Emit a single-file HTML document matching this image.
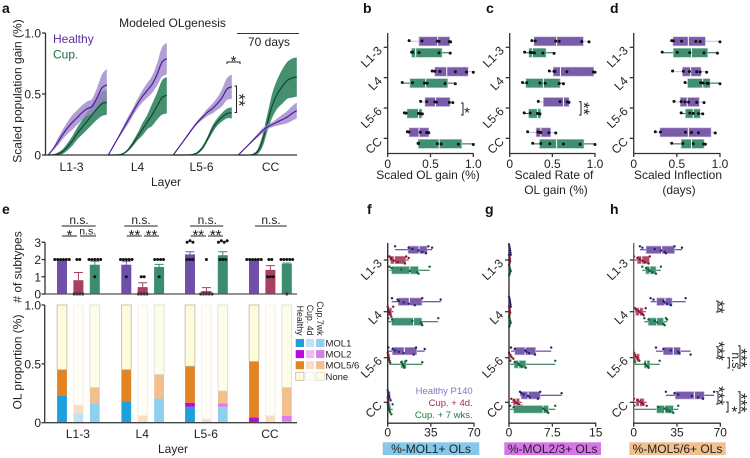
<!DOCTYPE html>
<html>
<head>
<meta charset="utf-8">
<title>Modeled OLgenesis figure</title>
<style>
html,body{margin:0;padding:0;background:#fff}
svg{display:block;font-family:"Liberation Sans",sans-serif}
text{fill:#222;font-size:12px}
.l{font-weight:bold;font-size:14px;fill:#111}
.m{text-anchor:middle}
.e{text-anchor:end}
</style>
</head>
<body>
<svg id="fig" xmlns="http://www.w3.org/2000/svg" width="750" height="458" viewBox="0 0 750 458">
<rect width="750" height="458" fill="#fff"/>
<text class="l" x="2" y="13">a</text>
<text class="l" x="363" y="13">b</text>
<text class="l" x="486" y="13">c</text>
<text class="l" x="610" y="13">d</text>
<text class="l" x="2" y="214">e</text>
<text class="l" x="367" y="214">f</text>
<text class="l" x="485" y="214">g</text>
<text class="l" x="610" y="214">h</text>

<text class="m" x="172.500" y="27">Modeled OLgenesis</text>
<text x="53" y="43" style="fill:#5b2d9c">Healthy</text>
<text x="53" y="58.500" style="fill:#1c6b3f">Cup.</text>
<text class="m" x="269" y="46">70 days</text>
<line x1="237" x2="299" y1="33.500" y2="33.500" stroke="#333" stroke-width="1"/>
<text class="m" transform="translate(21.500,91) rotate(-90)">Scaled population gain (%)</text>
<text class="m" x="166" y="186">Layer</text>

<text class="m" x="428" y="179">Scaled OL gain (%)</text>
<text class="m" x="554" y="179">Scaled Rate of</text>
<text class="m" x="556" y="194">OL gain (%)</text>
<text class="m" x="678" y="179">Scaled Inflection</text>
<text class="m" x="679" y="194">(days)</text>

<text class="m" transform="translate(21.500,267) rotate(-90)"># of subtypes</text>
<text class="m" transform="translate(21.500,362) rotate(-90)">OL proportion (%)</text>
<text class="m" x="173" y="453">Layer</text>

<rect x="382.700" y="442.300" width="96.600" height="12.700" fill="#85c8ea"/>
<rect x="504.300" y="442.300" width="96.700" height="12.700" fill="#d674e8"/>
<rect x="629.300" y="442.300" width="96.400" height="12.700" fill="#f2c08e"/>
<text class="m" x="431" y="453">%-MOL1+ OLs</text>
<text class="m" x="552.700" y="453">%-MOL2/3+ OLs</text>
<text class="m" x="677.500" y="453">%-MOL5/6+ OLs</text>

<text class="e" x="472.700" y="394" style="font-size:9.500px;fill:#8a70c0">Healthy P140</text>
<text class="e" x="472.700" y="406" style="font-size:9.500px;fill:#a03050">Cup. + 4d.</text>
<text class="e" x="472.700" y="418" style="font-size:9.500px;fill:#1a7a3a">Cup. + 7 wks.</text>
</svg>

<script>
/* ---------- panel a: modeled OLgenesis curves ---------- */
const aLayers = ['L1-3', 'L4', 'L5-6', 'CC'];
const aYTicks = [0, 0.5, 1];
const aYTickLabels = ['0', '0.5', '1.0'];
const aDays = [0, 5.83, 11.67, 17.5, 23.33, 29.17, 35, 40.83, 46.67, 52.5, 58.33, 64.17, 70];
const aHealthyMean = [
  [0, .05, .11, .17, .225, .27, .31, .35, .38, .40, .47, .55, .575],
  [0, .07, .14, .21, .28, .35, .42, .48, .53, .58, .66, .76, .79],
  [0, .055, .11, .165, .22, .27, .31, .35, .38, .42, .47, .54, .56],
  [0, .04, .08, .12, .16, .20, .23, .25, .27, .29, .31, .34, .365]
];
const aHealthyBand = [
  [0, .01, .03, .04, .05, .06, .06, .06, .06, .06, .08, .11, .13],
  [0, .005, .01, .02, .03, .03, .04, .05, .06, .07, .09, .12, .13],
  [0, .003, .005, .01, .01, .015, .02, .03, .04, .05, .07, .09, .10],
  [0, .002, .005, .01, .015, .02, .02, .02, .03, .04, .05, .06, .065]
];
const aCupMean = [
  [0, .002, .01, .03, .07, .12, .18, .23, .28, .33, .38, .42, .43],
  [0, 0, .002, .01, .04, .09, .15, .21, .27, .33, .40, .47, .49],
  [0, 0, 0, .001, .004, .02, .06, .13, .21, .27, .31, .34, .345],
  [0, 0, 0, .005, .03, .12, .27, .41, .50, .56, .61, .63, .64]
];
const aCupBand = [
  [0, .002, .01, .02, .03, .04, .05, .06, .07, .08, .09, .10, .10],
  [0, 0, .002, .005, .01, .02, .03, .05, .06, .09, .11, .14, .15],
  [0, 0, 0, .001, .003, .01, .015, .02, .03, .03, .035, .04, .045],
  [0, 0, 0, .005, .02, .05, .07, .10, .12, .14, .15, .16, .16]
];

/* ---------- panels b, c, d: box plots (healthy, cup alternating per layer) ---------- */
const bcdLayers = ['L1-3', 'L4', 'L5-6', 'CC'];
const bcdXTicks = [0, 0.5, 1];
const bcdXTickLabels = ['0', '0.5', '1.0'];

const bLow = [.25, .27, .52, .17, .385, .195, .23, .35];
const bQ1 = [.366, .28, .55, .26, .436, .226, .25, .358];
const bMedian = [.584, .327, .69, .444, .56, .36, .366, .60];
const bQ3 = [.724, .634, .94, .70, .727, .40, .48, .864];
const bHigh = [.735, .73, 1, .79, .76, .41, .486, 1];
const bPoints = [
  [.25, .40, .58, .60, .72, .735], [.28, .29, .366, .60, .73],
  [.52, .55, .61, .79, .92, 1], [.17, .29, .43, .46, .67, .79],
  [.385, .455, .55, .57, .72, .76], [.195, .215, .36, .38, .405],
  [.23, .25, .38, .455, .48], [.355, .36, .58, .625, .825, 1]
];

const cLow = [.26, .175, .465, .15, .335, .17, .21, .27];
const cQ1 = [.285, .226, .51, .19, .395, .222, .31, .35];
const cMedian = [.55, .265, .595, .395, .63, .325, .365, .55];
const cQ3 = [.863, .425, .985, .59, .695, .363, .48, .87];
const cHigh = [.93, .52, 1, .63, .70, .363, .54, 1];
const cPoints = [
  [.26, .30, .54, .58, .845, .93], [.175, .24, .26, .29, .39, .52],
  [.465, .52, .53, .67, .98, 1], [.15, .20, .355, .415, .58, .63],
  [.335, .59, .675, .69, .695], [.17, .24, .325, .335, .355],
  [.21, .33, .355, .365, .46, .54], [.27, .365, .47, .63, .825, 1]
];

const dLow = [.44, .33, .45, .595, .467, .55, .25, .44];
const dQ1 = [.455, .46, .565, .625, .54, .60, .305, .55];
const dMedian = [.633, .67, .66, .80, .62, .69, .633, .67];
const dQ3 = [.83, .857, .78, .885, .76, .77, .896, .815];
const dHigh = [1, .97, .845, 1, .815, .80, .945, .845];
const dPoints = [
  [.44, .46, .555, .72, .77, 1], [.33, .505, .65, .815, .97],
  [.45, .575, .645, .73, .77, .845], [.595, .775, .805, .85, .865, 1],
  [.467, .55, .595, .635, .73, .815], [.55, .65, .69, .75, .80],
  [.25, .31, .60, .67, .75, .945], [.44, .57, .69, .81, .83]
];

/* ---------- panel e: subtype counts and stacked proportions ---------- */
const eLayers = ['L1-3', 'L4', 'L5-6', 'CC'];
const eGroups = ['Healthy', 'Cup. 4d', 'Cup. 7wk'];
const eCountTicks = [0, 1, 2, 3];
const eCountMean = [2, .8, 1.7, 1.7, .4, 1.57, 2.3, .17, 2.25, 2, 1.4, 1.75];
const eCountError = [0, .45, .2, .2, .25, .15, .15, .2, .2, 0, .25, .05];
const eCountDots = [
  [2, 2, 2, 2, 2, 2], [2, 2, 0, 0, 0, 0], [2, 2, 2, 2, 2, 1],
  [2, 2, 2, 2, 2, 1], [1, 1, 0, 0, 0, 0], [2, 2, 2, 2, 1],
  [3, 3, 3, 2, 2, 2], [2, 0, 0, 0, 0, 0], [3, 3, 3, 3, 2, 2, 2],
  [2, 2, 2, 2, 2, 2], [2, 2, 1, 1, 1], [2, 2, 2, 2, 2, 0]
];
const eProportionTicks = [0, 0.5, 1];
const eProportionTickLabels = ['0', '0.5', '1.0'];
const eMol1 = [.23, .08, .165, .18, 0, .205, .135, 0, .135, .005, .005, .01];
const eMol2 = [0, 0, 0, 0, 0, 0, .035, 0, .03, .04, 0, .05];
const eMol56 = [.22, .07, .135, .27, .06, .205, .31, .03, .105, .475, .055, .24];
const eSubtypes = ['MOL1', 'MOL2', 'MOL5/6', 'None'];

/* ---------- panels f, g, h: box plots (healthy, cup 4d, cup 7wk per layer) ---------- */
const fghLayers = ['L1-3', 'L4', 'L5-6', 'CC'];

const fXTicks = [0, 35, 70];
const fLow = [6, 1.4, 1.4, 3.2, 0, .5, 0, 0, 1.4, 0, 0, 0];
const fQ1 = [16.5, 2.4, 3.2, 8.6, 0, 3.2, 3.8, 0, 10.8, 0, 0, 0];
const fMedian = [25.4, 5.4, 18, 17.5, 1.4, 21, 13.5, .5, 12.7, .6, .3, 1];
const fQ3 = [32, 14.6, 24.9, 27.8, 3.2, 27.6, 23.5, 1.5, 14.9, 2, 1, 2.4];
const fHigh = [36, 17, 34, 43, 4.6, 41, 30, 2, 28, 2.4, 1, 4];
const fPoints = [
  [6, 17, 20, 25, 28, 31, 33, 36], [1.4, 2.5, 3, 5, 8, 14, 15, 17], [1.4, 3.2, 11, 18, 24, 25, 34],
  [3.5, 8, 9, 13, 17, 22, 28, 43], [0, .5, 1, 1.5, 2, 3, 4.5], [.5, 3.5, 20, 27, 27.5, 28, 41],
  [.5, 4, 6, 9, 13, 21, 23, 30], [0, .3, .5, 1, 1.5, 2], [1.4, 11, 12, 12.5, 13, 13.5, 15, 28],
  [0, .3, .6, 1, 1.5, 2.4], [0, .2, .4, .6, 1], [0, .5, 1, 1.5, 2, 3, 4]
];

const gXTicks = [0, 7.5, 15];
const gXTickLabels = ['0', '7.5', '15'];
const gLow = [0, 0, 0, 0, 0, 0, .35, 0, .2, 1.9, .4, .2];
const gQ1 = [0, 0, 0, 0, 0, 0, 1, 0, .9, 2.1, .75, .8];
const gMedian = [.1, .1, .1, .1, .1, .1, 2.8, .2, 1.7, 3.3, 1.2, 5.9];
const gQ3 = [.2, .2, .2, .2, .2, .2, 4.6, .4, 2.9, 5.4, 1.8, 6.8];
const gHigh = [.3, .2, .3, .3, .2, .3, 7.3, .75, 8, 9.1, 2.2, 8];
const gPoints = [
  [0, .1, .15, .2, .25, .3], [0, .1, .15, .2, .1, .05], [0, .1, .2, .3, .15, .05],
  [0, .1, .15, .2, .25, .3], [0, .1, .15, .2, .1, .05], [0, .1, .2, .3, .15, .05],
  [.35, 1, 2.8, 3, 3.5, 4.5, 7.3], [0, .2, .4, .75], [.2, 1, 1.6, 1.8, 2.2, 2.9, 8],
  [1.9, 2.1, 2.5, 3.3, 3.6, 5, 5.4, 9.1], [.4, .8, 1, 1.3, 1.8, 2.2], [.2, .8, 5.9, 6.2, 6.6, 6.8, 8]
];

const hXTicks = [0, 35, 70];
const hLow = [5, .3, 7, 13.7, 1, 8.6, 18, .3, .5, 26, .3, .5];
const hQ1 = [10, 3, 9.7, 18.6, 1.6, 11.8, 24, .3, 8.6, 33.6, 2, 18.6];
const hMedian = [22.6, 6.5, 13, 25.3, 4.6, 18.6, 32, 2, 10.5, 49, 4.6, 25];
const hQ3 = [33, 12.6, 18, 31, 7.5, 24, 37.7, 4.6, 13, 57, 8.3, 32];
const hHigh = [39, 13, 22, 42, 9.7, 27, 46, 4.8, 21, 65, 10.5, 36];
const hPoints = [
  [5, 7, 17, 22, 25, 26, 33, 39], [.3, 3, 5, 7, 9, 12, 13], [7, 10, 12, 13, 15, 18, 22],
  [13.7, 16, 24, 25, 27, 30, 42], [1, 2, 4, 5, 7, 8, 9.7], [8.6, 12, 17, 19, 24, 25, 26, 27],
  [18, 24, 30, 36, 37, 46], [.3, 1, 2, 3, 4.6], [.5, 1, 9, 10, 11, 12, 21],
  [26, 33, 36, 47, 52, 56, 65], [.3, 3, 5, 7, 8, 10.5], [.5, 20, 25, 27, 29, 32, 36]
];

/* ---------- drawing ---------- */
const NS = 'http://www.w3.org/2000/svg';
const svg = document.getElementById('fig');
function el(tag, attrs, text) {
  const node = document.createElementNS(NS, tag);
  for (const k in attrs) node.setAttribute(k, attrs[k]);
  if (text !== undefined) node.textContent = text;
  svg.appendChild(node);
  return node;
}
function linear(d0, d1, r0, r1) { return v => r0 + (v - d0) / (d1 - d0) * (r1 - r0); }
const axisColor = '#333';

/* smooth curve through points (Catmull-Rom as cubic beziers) */
function smoothSegments(pts) {
  let d = '';
  for (let i = 0; i < pts.length - 1; i++) {
    const p0 = pts[Math.max(0, i - 1)], p1 = pts[i], p2 = pts[i + 1], p3 = pts[Math.min(pts.length - 1, i + 2)];
    const c1x = p1[0] + (p2[0] - p0[0]) / 6, c1y = p1[1] + (p2[1] - p0[1]) / 6;
    const c2x = p2[0] - (p3[0] - p1[0]) / 6, c2y = p2[1] - (p3[1] - p1[1]) / 6;
    d += ` C${c1x.toFixed(2)} ${c1y.toFixed(2)} ${c2x.toFixed(2)} ${c2y.toFixed(2)} ${p2[0].toFixed(2)} ${p2[1].toFixed(2)}`;
  }
  return d;
}

/* panel a */
const aY = linear(0, 1, 155, 33);
const aPanelLeft = i => [48.300, 108.300, 173.300, 238.300][i];
const aPanelWidth = 58.500;
const aX = (i, day) => aPanelLeft(i) + day / 70 * aPanelWidth;
const aLabelShift = i => [-6, 0, -1, 3][i];
function drawCurve(i, means, bands, fill, stroke, alpha, name) {
  const m = means[i], b = bands[i];
  const topPts = m.map((v, k) => [aX(i, aDays[k]), aY(v + b[k])]);
  const botPts = m.map((v, k) => [aX(i, aDays[k]), aY(Math.max(0, v - b[k]))]).reverse();
  const d = `M${topPts[0][0]} ${topPts[0][1]}` + smoothSegments(topPts) + ` L${botPts[0][0]} ${botPts[0][1]}` + smoothSegments(botPts) + ' Z';
  const band = el('path', { d: d, fill: fill, 'fill-opacity': alpha });
  
  
  const linePts = m.map((v, k) => [aX(i, aDays[k]), aY(v)]);
  const line = el('path', {
    d: `M${linePts[0][0]} ${linePts[0][1]}` + smoothSegments(linePts),
    fill: 'none', stroke: stroke, 'stroke-width': 1.2
  });
  
  
}
aLayers.forEach((layer, i) => {
  drawCurve(i, aCupMean, aCupBand, '#3b8a68', '#0e4a2c', .95, 'cup');
  drawCurve(i, aHealthyMean, aHealthyBand, '#9d86c9', '#4d1c9a', .8, 'healthy');
  const t = el('text', { class: 'm', x: aX(i, 35) + aLabelShift(i), y: 171 }, layer);
  
  
});
function hline(x1, x2, y, name, w, c) {
  const n = el('line', { x1: x1, x2: x2, y1: y, y2: y, stroke: c || axisColor, 'stroke-width': w || 1.3 });
  
  
  return n;
}
function vline(x, y1, y2, name, w, c) {
  const n = el('line', { x1: x, x2: x, y1: y1, y2: y2, stroke: c || axisColor, 'stroke-width': w || 1.3 });
  
  
  return n;
}
vline(45.500, 33, 155.500, 'chart-a-y-axis');
hline(45, 297, 155, 'chart-a-x-axis');
aYTicks.forEach((v, i) => {
  hline(42, 45.500, aY(v), 'chart-a-y-tick');
  const t = el('text', { class: 'e', x: 41, y: aY(v) + 4.500 }, aYTickLabels[i]);
  
  
});

/* significance helpers */
function bracket(x, y1, y2, name) {
  const n = el('path', { d: `M${x - 2} ${y1} H${x} V${y2} H${x - 2}`, fill: 'none', stroke: '#222', 'stroke-width': 1 });
  
  
}
function vsig(x, y, s, name, size) {
  const n = el('text', { class: 'm', transform: `translate(${x},${y}) rotate(90)`, style: `font-size:${size || 16.5}px` }, s);
  
  
}
function hsig(x, y, s, name, size) {
  const n = el('text', { class: 'm', x: x, y: y, style: `font-size:${size || 15}px` }, s);
  
  
}
hsig(233.500, 66, '*', 'sig-star-70-days');
const sigBar = el('path', { d: 'M227 64 V62 H240 V64', fill: 'none', stroke: '#222', 'stroke-width': 1 });


const sigBr = el('path', { d: 'M234.500 86 H236.500 V112.500 H234.500', fill: 'none', stroke: '#222', 'stroke-width': 1 });


vsig(233.500, 100, '**', 'sig-stars-l56');

/* box plots */
const palette = {
  h: { box: '#7b5cab', whisk: '#3f2a86', light: '#c7bbe0', dot: '#2a1a70' },
  c: { box: '#a84d68', whisk: '#9a1233', light: '#d9a5b4', dot: '#8e0f2e' },
  s: { box: '#3f8f70', whisk: '#13693a', light: '#a6d1be', dot: '#0e5f2f' }
};
function boxRow(scale, y, h, low, q1, med, q3, high, pts, col, dotColor, whisk, r, jit, name) {
  hline(scale(low), scale(high), y, name + '-whisker', 1, whisk);
  const box = el('rect', { x: scale(q1), y: y - h / 2, width: Math.max(0, scale(q3) - scale(q1)), height: h, fill: col.box, stroke: col.light, 'stroke-width': .6 });
  
  
  vline(scale(med), y - h / 2, y + h / 2, name + '-median', 1, '#fff');
  pts.forEach((p, k) => {
    const c = el('circle', { cx: scale(p), cy: y + jit * ((k % 6) - 2.500), r: r, fill: dotColor });
    
    
  });
}

const bcdCenter = i => 47.300 + i * 30.350;
function boxPanel(x0, x1, key, low, q1, med, q3, high, pts) {
  const sx = linear(0, 1, x0, x1);
  low.forEach((_, k) => {
    const cat = Math.floor(k / 2), healthy = k % 2 === 0;
    const col = healthy ? palette.h : palette.s;
    const y = bcdCenter(cat) + (healthy ? -6 : 5.500);
    boxRow(sx, y, 9, low[k], q1[k], med[k], q3[k], high[k], pts[k], col, '#111', healthy ? col.light : col.whisk, 1.500, .25,
      'chart-' + key + '-' + bcdLayers[cat] + (healthy ? '-healthy' : '-cup'));
  });
  vline(x0, 33, 154, 'chart-' + key + '-y-axis');
  hline(x0 - .6, x1 + .5, 153.500, 'chart-' + key + '-x-axis');
  bcdLayers.forEach((layer, i) => {
    hline(x0 - 4, x0, bcdCenter(i), 'chart-' + key + '-y-tick');
    const t = el('text', { class: 'e', transform: `translate(${x0 - 5},${bcdCenter(i) + 4}) rotate(-45)` }, layer);
    
    
  });
  bcdXTicks.forEach((v, i) => {
    vline(sx(v), 153.500, 157, 'chart-' + key + '-x-tick');
    const t = el('text', { class: 'm', x: sx(v), y: 168 }, bcdXTickLabels[i]);
    
    
  });
}
boxPanel(387.700, 473.300, 'b', bLow, bQ1, bMedian, bQ3, bHigh, bPoints);
boxPanel(509.700, 595, 'c', cLow, cQ1, cMedian, cQ3, cHigh, cPoints);
boxPanel(633.700, 720, 'd', dLow, dQ1, dMedian, dQ3, dHigh, dPoints);
bracket(463, 103, 115, 'sig-bracket-b');
hsig(467, 117.500, '*', 'sig-star-b');
bracket(581, 101.700, 115, 'sig-bracket-c');
vsig(578, 108.500, '**', 'sig-stars-c');

/* panel e: counts */
const eBarCenter = k => {
  const cat = Math.floor(k / 3), g = k % 3;
  return [62, 126.300, 190, 254][cat] + g * 16.400;
};
const eCountY = linear(0, 3, 294, 242.300);
const eBarColors = ['#6f50a8', '#a8405f', '#3c8c6e'];
eCountMean.forEach((v, k) => {
  const g = k % 3, cx = eBarCenter(k);
  const bar = el('rect', { x: cx - 5, y: eCountY(v), width: 10, height: 294 - eCountY(v), fill: eBarColors[g] });
  
  
  const top = eCountY(v + eCountError[k]);
  const err = el('path', { d: `M${cx - 4.500} ${top} H${cx + 4.500} M${cx} ${top} V${eCountY(v)}`, stroke: eBarColors[g], 'stroke-width': 1, fill: 'none' });
  
  
  const seen = {};
  eCountDots[k].forEach(d => { seen[d] = (seen[d] || 0) + 1; });
  Object.keys(seen).forEach(val => {
    for (let j = 0; j < seen[val]; j++) {
      const dot = el('circle', { cx: cx + (j - (seen[val] - 1) / 2) * 2.900, cy: eCountY(+val) - (+val === 3 && j % 2 ? 1.500 : 0), r: 1.500, fill: '#111' });
      
      
    }
  });
});
vline(45, 242.300, 294.500, 'chart-e-top-y-axis');
hline(44.500, 297, 294, 'chart-e-top-x-axis', 1.300, '#555');
eCountTicks.forEach(v => {
  hline(41.500, 45, eCountY(v), 'chart-e-top-y-tick');
  const t = el('text', { class: 'e', x: 41, y: eCountY(v) + 4.500 }, String(v));
  
  
});

/* panel e: stacked proportions */
const ePropY = linear(0, 1, 422.700, 305);
const stackColors = [
  ['#1f9fdc', '#bfe3f5', '#8fd0f0'],
  ['#b90be0', '#ecbcf2', '#d97cec'],
  ['#e28423', '#f8dcc4', '#f2c08e'],
  ['#fdfbdc', '#fefef6', '#fefdea']
];
const noneStroke = ['#bdb9a0', '#eeeeea', '#ddddcf'];
eMol1.forEach((_, k) => {
  const g = k % 3, cx = eBarCenter(k);
  const values = [eMol1[k], eMol2[k], eMol56[k], 1 - eMol1[k] - eMol2[k] - eMol56[k]];
  let acc = 0;
  values.forEach((v, s) => {
    const r = el('rect', { x: cx - 4.900, y: ePropY(acc + v), width: 9.800, height: ePropY(acc) - ePropY(acc + v), fill: stackColors[s][g] });
    if (s === 3) { r.setAttribute('stroke', noneStroke[g]); r.setAttribute('stroke-width', '.8'); }
    
    
    acc += v;
  });
});
vline(44.700, 305, 423, 'chart-e-bottom-y-axis');
hline(44.500, 297, 422.700, 'chart-e-bottom-x-axis', 1.300, '#444');
eProportionTicks.forEach((v, i) => {
  hline(41.500, 44.700, ePropY(v), 'chart-e-bottom-y-tick');
  const t = el('text', { class: 'e', x: 41, y: ePropY(v) + 4.500 }, eProportionTickLabels[i]);
  
  
});
eLayers.forEach((layer, i) => {
  const t = el('text', { class: 'm', x: eBarCenter(i * 3 + 1) - .5, y: 438 }, layer);
  
  
});

/* panel e: legend */
const eLegendRow = s => 343 + s * 11.100;
const eLegendCol = g => 295.700 + g * 10.200;
eSubtypes.forEach((name, s) => {
  eGroups.forEach((grp, g) => {
    const r = el('rect', { x: eLegendCol(g), y: eLegendRow(s) - 4, width: 8.300, height: 8, fill: stackColors[s][g] });
    if (s === 3) { r.setAttribute('stroke', noneStroke[g]); r.setAttribute('stroke-width', '.8'); }
    
    
  });
  const t = el('text', { x: 325.500, y: eLegendRow(s) + 3.500, style: 'font-size:9.500px' }, name);
  
  
});
['Healthy', 'Cup. 4d', 'Cup.7wk'].forEach((label, g) => {
  const t = el('text', { class: 'e', transform: `translate(${296.800 + g * 10.200},335.500) rotate(90)`, style: 'font-size:8.800px' }, label);
  
  
});

/* panel e: significance */
function sigGroup(x1, x2, y, labelX, labelY, label, name, size) {
  hline(x1, x2, y, name + '-bar', 1, '#222');
  hsig(labelX, labelY, label, name + '-label', size);
}
sigGroup(61.700, 95.700, 226, 79, 224, 'n.s.', 'sig-e-l13', 12);
sigGroup(62, 77, 236, 69.500, 240, '*', 'sig-e-l13-a', 15);
sigGroup(80, 96, 236, 87.700, 234.500, 'n.s.', 'sig-e-l13-b', 10.500);
sigGroup(124.300, 157.700, 226, 141, 224, 'n.s.', 'sig-e-l4', 12);
sigGroup(126.700, 141.700, 236, 134.500, 240, '**', 'sig-e-l4-a', 15);
sigGroup(144, 159, 236, 151.500, 240, '**', 'sig-e-l4-b', 15);
sigGroup(190, 223.300, 226, 207.300, 224, 'n.s.', 'sig-e-l56', 12);
sigGroup(190.700, 206, 236, 198.300, 240, '**', 'sig-e-l56-a', 15);
sigGroup(208, 223, 236, 215.700, 240, '**', 'sig-e-l56-b', 15);
sigGroup(255, 286.700, 226, 271, 224, 'n.s.', 'sig-e-cc', 12);

/* panels f, g, h */
const fghCenter = i => [260, 311.700, 357.700, 402.300][i];
const fghOffset = (cat, g) => {
  const spread = [10.200, 10, 6.600, 7][cat];
  return (g - 1) * spread;
};
function fghPanel(x0, x1, max, key, ticks, labels, low, q1, med, q3, high, pts, axis) {
  const sx = linear(0, max, x0, x1);
  const cols = [palette.h, palette.c, palette.s];
  const groups = ['-healthy', '-cup4d', '-cup7wk'];
  low.forEach((_, k) => {
    const cat = Math.floor(k / 3), g = k % 3;
    const col = cols[g];
    const y = fghCenter(cat) + fghOffset(cat, g);
    const narrow = (high[k] - low[k]) / max < .07;
    boxRow(sx, y, 7.500, low[k], q1[k], med[k], q3[k], high[k], pts[k], col, col.dot, col.whisk, 1.200, narrow ? 2 : 1.400,
      'chart-' + key + '-' + fghLayers[cat] + groups[g]);
  });
  vline(x0, 243, 423.500, 'chart-' + key + '-y-axis', 1.400, axis);
  hline(x0 - .6, x1 + .5, 423.200, 'chart-' + key + '-x-axis');
  fghLayers.forEach((layer, i) => {
    hline(x0 - 4, x0, fghCenter(i), 'chart-' + key + '-y-tick');
    const t = el('text', { class: 'e', transform: `translate(${x0 - 5},${fghCenter(i) + 4}) rotate(-45)` }, layer);
    
    
  });
  ticks.forEach((v, i) => {
    vline(sx(v), 423.200, 426.700, 'chart-' + key + '-x-tick');
    const t = el('text', { class: 'm', x: sx(v), y: 436.500 }, labels[i]);
    
    
  });
}
fghPanel(387.700, 474, 70, 'f', fXTicks, fXTicks.map(String), fLow, fQ1, fMedian, fQ3, fHigh, fPoints, '#333');
fghPanel(509, 595.700, 15, 'g', gXTicks, gXTickLabels, gLow, gQ1, gMedian, gQ3, gHigh, gPoints, '#333');
fghPanel(633.700, 720.300, 70, 'h', hXTicks, hXTicks.map(String), hLow, hQ1, hMedian, hQ3, hHigh, hPoints, '#666');

/* panel h significance */
bracket(718, 301, 312, 'sig-h-l4-bracket');
vsig(713, 307, '**', 'sig-h-l4-stars');
bracket(718, 346.700, 358, 'sig-h-l56-bracket');
vsig(713, 351, '***', 'sig-h-l56-stars');
bracket(729.300, 357.700, 368, 'sig-h-l56-ns-bracket');
vsig(732, 362, 'n.s.', 'sig-h-l56-ns', 12);
bracket(740, 345.700, 368.300, 'sig-h-l56-long-bracket');
vsig(735.500, 358, '***', 'sig-h-l56-long-stars');
bracket(718, 391.700, 404, 'sig-h-cc-bracket');
vsig(713, 395.700, '***', 'sig-h-cc-stars');
bracket(728, 402, 412, 'sig-h-cc-mid-bracket');
hsig(734.500, 416.500, '*', 'sig-h-cc-mid-star');
bracket(740, 391.700, 413, 'sig-h-cc-long-bracket');
vsig(735.500, 402.700, '***', 'sig-h-cc-long-stars');
</script>
</body>
</html>
